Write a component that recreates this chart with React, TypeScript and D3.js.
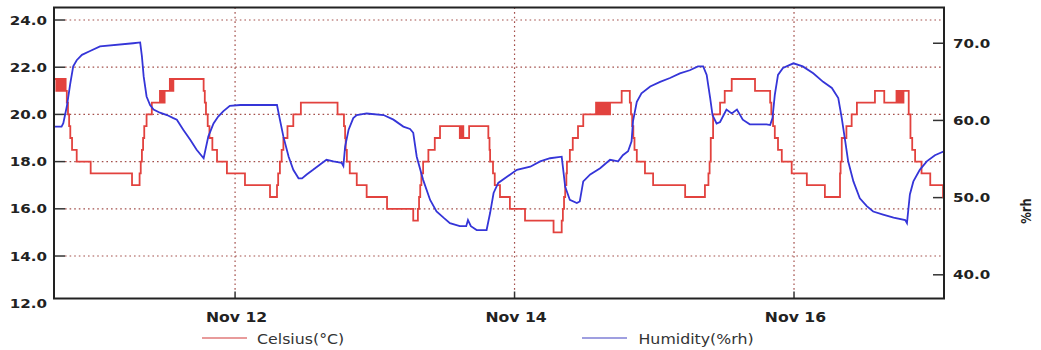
import React from "react";
import * as d3 from "d3";

// hours since Nov 10 00:00, value
const tempPoints: [number, number][] = [
  [16.9,21.5],[17.3,21.0],[17.5,21.5],[17.8,21.0],[18.0,21.5],[18.3,21.0],[18.6,21.5],[18.9,21.0],[19.1,20.5],[19.3,20.0],[19.5,19.5],[19.7,19.0],[20.0,18.5],[20.8,18.0],[23.2,17.5],[30.3,17.0],[31.6,17.5],[31.8,18.0],[32.0,18.5],[32.2,19.0],[32.4,19.5],[32.8,20.0],[33.7,20.5],[35.1,21.0],[35.3,20.5],[35.5,21.0],[35.7,20.5],[35.9,21.0],[36.8,21.5],[37.0,21.0],[37.2,21.5],[37.3,21.0],[37.4,21.5],[42.6,21.0],[42.8,20.5],[43.0,20.0],[43.3,19.5],[43.6,19.0],[44.1,18.5],[44.9,18.0],[46.6,17.5],[49.7,17.0],[54.0,16.5],[55.2,17.0],[55.4,17.5],[55.7,18.0],[56.0,18.5],[56.3,19.0],[57.0,19.5],[58.0,20.0],[59.3,20.5],[65.6,20.0],[66.7,19.5],[66.9,19.0],[67.0,18.5],[67.2,18.0],[67.7,17.5],[68.9,17.0],[70.6,16.5],[74.1,16.0],[78.6,15.5],[79.4,16.0],[79.6,16.5],[79.8,17.0],[80.0,17.5],[80.3,18.0],[81.2,18.5],[82.3,19.0],[83.2,19.5],[86.6,19.0],[86.75,19.5],[86.9,19.0],[87.05,19.5],[87.2,19.0],[88.2,19.5],[91.5,19.0],[91.7,18.5],[91.8,18.0],[92.3,17.5],[92.6,17.0],[93.5,16.5],[95.2,16.0],[97.8,15.5],[102.7,15.0],[104.1,15.5],[104.3,16.0],[104.5,16.5],[104.7,17.0],[104.9,17.5],[105.0,18.0],[105.5,18.5],[106.0,19.0],[106.9,19.5],[107.8,20.0],[110.0,20.5],[110.3,20.0],[110.6,20.5],[110.9,20.0],[111.2,20.5],[111.5,20.0],[111.8,20.5],[112.1,20.0],[112.4,20.5],[114.4,21.0],[115.8,20.5],[116.0,20.0],[116.2,19.5],[116.4,19.0],[116.6,18.5],[117.0,18.0],[118.4,17.5],[119.8,17.0],[125.3,16.5],[128.7,17.0],[129.3,17.5],[129.5,18.0],[129.7,19.0],[130.1,20.0],[131.3,20.5],[132.1,21.0],[133.3,21.5],[137.3,21.0],[139.9,20.5],[140.1,20.0],[140.4,19.5],[140.7,19.0],[141.25,18.5],[141.9,18.0],[143.6,17.5],[146.2,17.0],[149.3,16.5],[151.9,17.5],[152.0,18.0],[152.2,19.0],[153.0,19.5],[153.9,20.0],[154.8,20.5],[157.9,21.0],[159.5,20.5],[161.6,21.0],[161.9,20.5],[162.2,21.0],[162.5,20.5],[162.8,21.0],[163.7,20.0],[164.0,19.0],[164.3,18.5],[164.8,18.0],[165.9,17.5],[167.4,17.0],[169.6,16.5],[169.76,16.5]
];

const humidityPoints: [number, number][] = [
  [16.9,59.2],[18.2,59.2],[18.5,59.65],[19.1,61.8],[19.7,64.8],[20.2,67.0],[20.8,67.8],[21.7,68.5],[23.1,69.0],[24.8,69.6],[30.5,70.0],[31.7,70.1],[32.0,68.3],[32.3,65.7],[32.8,63.1],[33.4,62.0],[34.0,61.4],[35.1,61.0],[36.3,60.7],[37.4,60.3],[38.0,60.1],[39.1,58.8],[40.3,57.5],[41.4,56.2],[42.6,55.1],[43.4,57.9],[44.3,59.6],[45.1,60.5],[46.0,61.2],[47.1,61.9],[48.9,62.0],[55.2,62.0],[55.7,60.1],[56.3,57.9],[57.2,55.3],[58.0,53.6],[58.9,52.5],[59.5,52.5],[60.3,53.0],[61.4,53.6],[62.6,54.3],[63.7,54.9],[64.9,54.7],[66.3,54.5],[66.6,54.1],[66.9,56.6],[67.5,58.8],[68.3,60.3],[68.9,60.7],[70.6,60.9],[73.5,60.7],[75.2,60.1],[76.9,59.2],[78.05,58.9],[78.6,58.4],[79.2,55.3],[80.3,52.3],[81.5,49.7],[82.6,48.2],[83.8,47.4],[84.9,46.7],[86.6,46.3],[87.7,46.3],[88.0,47.1],[88.5,46.3],[89.5,45.8],[91.2,45.8],[91.8,48.0],[92.4,50.6],[93.2,51.9],[94.7,52.7],[96.4,53.6],[98.7,54.0],[100.4,54.7],[102.1,55.1],[104.1,55.3],[104.7,51.4],[105.5,49.7],[106.7,49.3],[107.2,49.5],[107.8,52.1],[109.0,53.0],[110.7,53.8],[112.4,54.9],[113.8,54.7],[114.6,55.5],[115.5,56.0],[116.1,57.3],[116.35,59.9],[117.0,62.4],[117.8,63.5],[119.3,64.4],[121.0,65.0],[122.7,65.5],[124.4,66.1],[126.1,66.5],[127.5,67.0],[128.4,67.0],[129.0,65.9],[129.6,62.9],[130.0,60.7],[130.7,59.6],[131.3,59.8],[132.4,61.4],[133.3,60.9],[134.2,61.4],[135.2,60.1],[136.4,59.5],[139.3,59.5],[139.9,59.4],[140.3,60.3],[140.7,63.3],[141.25,65.9],[142.1,66.8],[143.9,67.4],[145.5,67.0],[147.3,66.1],[149.0,65.0],[150.5,64.2],[151.6,62.9],[152.2,60.3],[152.8,57.3],[153.3,54.7],[154.2,52.1],[155.3,49.9],[156.5,48.9],[157.6,48.2],[159.3,47.8],[161.1,47.4],[163.1,47.1],[163.4,46.7],[163.9,50.4],[164.5,52.1],[165.6,53.6],[166.8,54.7],[168.2,55.5],[169.76,56.0]
];

const tempTicks = [12, 14, 16, 18, 20, 22, 24];
const humidityTicks = [40, 50, 60, 70];
const dateTickHours = [48, 96, 144];
const tempDomain: [number, number] = [12.2, 24.53];
const humidityDomain: [number, number] = [36.93, 74.63];
const hourDomain: [number, number] = [16.9, 169.76];
const legendLabels = ["Celsius(°C)", "Humidity(%rh)"];

const BASE = new Date(2020, 10, 10).getTime();
const toDate = (h: number) => new Date(BASE + h * 3600 * 1000);

const RED = "#e2423e";
const BLUE = "#3535d8";
const GRID = "#a4504c";
const FONT = "'DejaVu Sans', Verdana, sans-serif";

export default function App() {
  const L = 54, R = 944, T = 7.5, B = 298.5;
  const x = d3.scaleTime().domain(hourDomain.map(toDate)).range([L, R]);
  const yT = d3.scaleLinear().domain(tempDomain).range([B, T]);
  const yH = d3.scaleLinear().domain(humidityDomain).range([B, T]);
  const fmt = d3.timeFormat("%b %d");

  const tempLine = d3
    .line<[number, number]>()
    .x((d) => x(toDate(d[0])))
    .y((d) => yT(d[1]))
    .curve(d3.curveStepAfter);
  const humLine = d3
    .line<[number, number]>()
    .x((d) => x(toDate(d[0])))
    .y((d) => yH(d[1]));

  return (
    <svg
      width={1041}
      height={350}
      style={{ position: "absolute", left: 0, top: 0, background: "#fff" }}
    >
      <defs>
        <clipPath id="plot">
          <rect x={L} y={T} width={R - L} height={B - T} />
        </clipPath>
      </defs>
      <rect x={0} y={0} width={1041} height={350} fill="#fff" />
      {tempTicks
        .filter((t) => t > 12)
        .map((t) => (
          <g key={"g" + t}>
            <line x1={L + 11} x2={R} y1={yT(t)} y2={yT(t)} stroke={GRID} strokeWidth={1.2} strokeDasharray="1.6,3" />
            <line x1={L} x2={L + 11} y1={yT(t)} y2={yT(t)} stroke="#333" strokeWidth={1.5} />
          </g>
        ))}
      {dateTickHours.map((h) => (
        <g key={"v" + h}>
          <line x1={x(toDate(h))} x2={x(toDate(h))} y1={T} y2={B - 7} stroke={GRID} strokeWidth={1.2} strokeDasharray="1.6,3" />
          <line x1={x(toDate(h))} x2={x(toDate(h))} y1={B - 7} y2={B} stroke="#333" strokeWidth={1.5} />
        </g>
      ))}
      {humidityTicks.map((t) => (
        <line key={"rt" + t} x1={R - 11} x2={R} y1={yH(t)} y2={yH(t)} stroke="#333" strokeWidth={1.5} />
      ))}
      <g clipPath="url(#plot)">
        <path d={tempLine(tempPoints) || ""} fill="none" stroke={RED} strokeWidth={1.8} />
        <path d={humLine(humidityPoints) || ""} fill="none" stroke={BLUE} strokeWidth={1.8} />
      </g>
      <rect x={L} y={T} width={R - L} height={B - T} fill="none" stroke="#222" strokeWidth={2} />
      {tempTicks.map((t) => (
        <text
          key={"lt" + t}
          transform={`translate(47,${yT(t) + 4.6}) scale(1.18,1)`}
          textAnchor="end"
          fontFamily={FONT}
          fontWeight="bold"
          fontSize={12.8}
          fill="#222"
        >
          {t.toFixed(1)}
        </text>
      ))}
      {humidityTicks.map((t) => (
        <text
          key={"rl" + t}
          transform={`translate(953,${yH(t) + 4.6}) scale(1.18,1)`}
          textAnchor="start"
          fontFamily={FONT}
          fontWeight="bold"
          fontSize={12.8}
          fill="#222"
        >
          {t.toFixed(1)}
        </text>
      ))}
      <text
        transform={`translate(1031,211) scale(1.18,1) rotate(-90)`}
        textAnchor="middle"
        fontFamily={FONT}
        fontWeight="bold"
        fontSize={11.5}
        fill="#222"
      >
        %rh
      </text>
      {dateTickHours.map((h) => (
        <text
          key={"xl" + h}
          transform={`translate(${x(toDate(h)) + 1.5},321.5) scale(1.16,1)`}
          textAnchor="middle"
          fontFamily={FONT}
          fontWeight="bold"
          fontSize={13.5}
          fill="#222"
        >
          {fmt(toDate(h)).replace(/ 0/, " ")}
        </text>
      ))}
      <line x1={202} x2={247} y1={338} y2={338} stroke="#e07a7a" strokeWidth={1.5} />
      <text transform="translate(257,344.3) scale(1.17,1)" fontFamily={FONT} fontSize={13.5} fill="#333">
        {legendLabels[0]}
      </text>
      <line x1={582} x2={627} y1={338} y2={338} stroke="#7f7fd6" strokeWidth={1.5} />
      <text transform="translate(638.5,344.3) scale(1.17,1)" fontFamily={FONT} fontSize={13.5} fill="#333">
        {legendLabels[1]}
      </text>
    </svg>
  );
}
